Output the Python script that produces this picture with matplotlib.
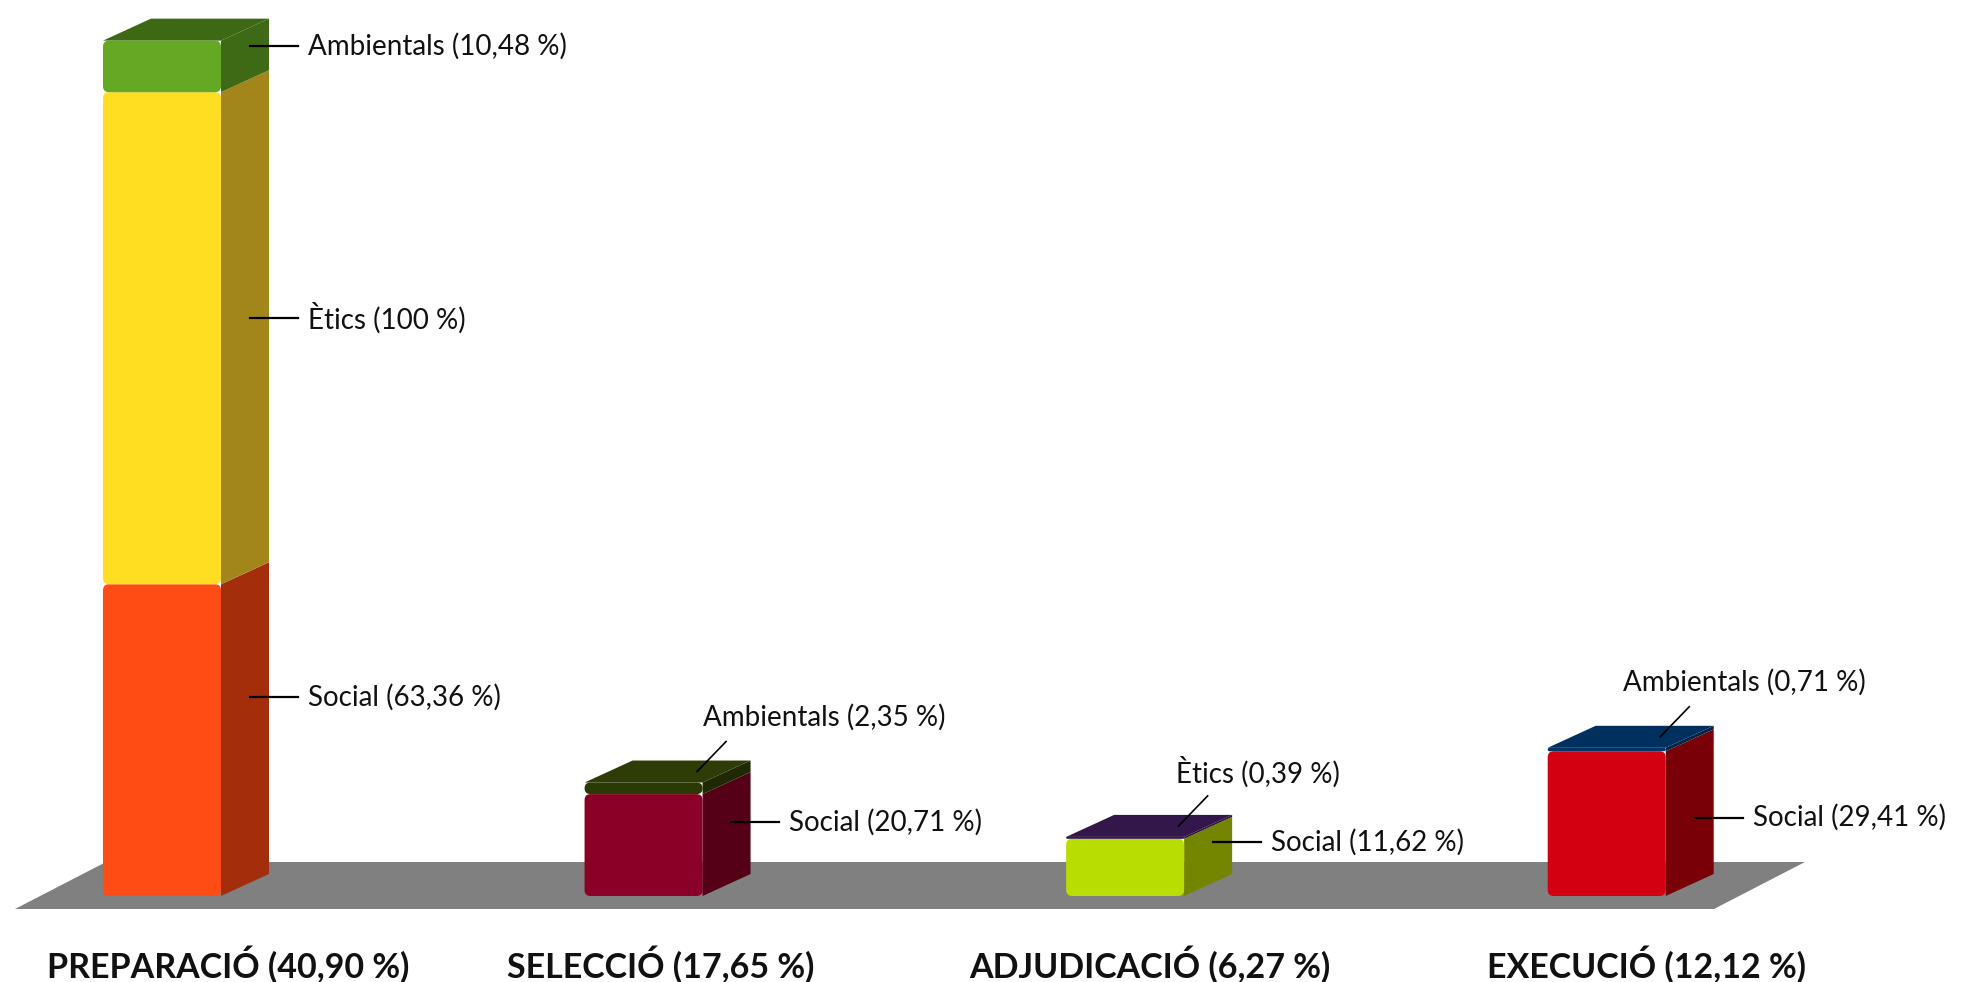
import numpy as np
import matplotlib.pyplot as plt
from matplotlib.patches import Polygon, FancyBboxPatch

# --- datos ---
categories = ['PREPARACIÓ', 'SELECCIÓ', 'ADJUDICACIÓ', 'EXECUCIÓ']
category_pct = [40.90, 17.65, 6.27, 12.12]
series = ['Social', 'Ètics', 'Ambientals']
social = [63.36, 20.71, 11.62, 29.41]
etics = [100.0, 0.0, 0.39, 0.0]
ambientals = [10.48, 2.35, 0.0, 0.71]

# --- estilo: colores (frontal, lateral, superior) por categoría y serie ---
colors = [
    [('#FF4C14', '#A42E0C', '#C23810'), ('#FFDE22', '#A3861A', '#C9AE1E'), ('#64A823', '#3E6A15', '#3D6814')],
    [('#8A0027', '#560017', '#6A001E'), None, ('#2B3A05', '#1F2A04', '#2E3D07')],
    [('#B8DD00', '#748500', '#8FA800'), ('#351848', '#2A1238', '#34174A'), None],
    [('#D20010', '#7A0008', '#9A000C'), None, ('#003366', '#002449', '#00305E')],
]
FLOOR = '#808080'
FONT = 'Lato'

W, H = 1965, 982
XLIM = (-0.3364, 3.744)
YLIM = (-17.48, 182.1)
SX = W / (XLIM[1] - XLIM[0])   # px por unidad x
SY = H / (YLIM[1] - YLIM[0])   # px por unidad y

BAR_W = 118 / SX
DX, DY = 48 / SX, 22 / SY
ROUND = 6   # radio de esquinas (px)

# desplazamientos de etiquetas (px)
side_lift = {(0, 0): 43, (0, 1): 20, (0, 2): 20, (1, 0): 23, (2, 0): 25, (3, 0): 6}
top_text_dx = {1: 98, 2: 50, 3: 55}
cat_label_shift = [66, 17, 25, 40]


def fmt(v):
    s = f'{v:.2f}'.replace('.', ',')
    return s[:-3] if s.endswith(',00') else s


fig = plt.figure(figsize=(W / 100, H / 100), dpi=100)
ax = fig.add_axes([0, 0, 1, 1])
ax.set_xlim(*XLIM)
ax.set_ylim(*YLIM)
ax.axis('off')

# suelo
fl, fr = -147 / SX, 1552 / SX
fy0, fy1 = -13 / SY, 34 / SY
fdx = 91 / SX
ax.add_patch(Polygon([(fl, fy0), (fr, fy0), (fr + fdx, fy1), (fl + fdx, fy1)],
                     closed=True, facecolor=FLOOR, edgecolor='none', zorder=1))

values = np.array([social, etics, ambientals]).T

for i, cat in enumerate(categories):
    x0 = i - BAR_W / 2
    bottom = 0.0
    segs = [(j, v) for j, v in enumerate(values[i]) if v > 0]
    for k, (j, v) in enumerate(segs):
        top = bottom + v
        front, side, topc = colors[i][j]
        ax.add_patch(Polygon([(x0 + BAR_W, bottom), (x0 + BAR_W + DX, bottom + DY),
                              (x0 + BAR_W + DX, top + DY), (x0 + BAR_W, top)],
                             closed=True, facecolor=side, edgecolor='none', zorder=3))
        if k == len(segs) - 1:
            ax.add_patch(Polygon([(x0, top), (x0 + BAR_W, top), (x0 + BAR_W + DX, top + DY),
                                  (x0 + DX, top + DY)],
                                 closed=True, facecolor=topc, edgecolor='none', zorder=3))
        r = min(ROUND, v * SY / 2) / SX
        ax.add_patch(FancyBboxPatch((x0, bottom), BAR_W, v,
                                    boxstyle=f'round,pad=0,rounding_size={r}',
                                    mutation_aspect=SX / SY,
                                    facecolor=front, edgecolor='none', zorder=4))

        label = f'{series[j]} ({fmt(v)} %)'
        if v >= 5:
            # etiqueta lateral con línea horizontal
            ly = (bottom + top) / 2 + side_lift.get((i, j), 20) / SY
            lx = x0 + BAR_W + DX * 0.6
            ax.plot([lx, lx + 48 / SX], [ly, ly], color='black', lw=1.6, zorder=5)
            ax.text(lx + 58 / SX, ly, label, ha='left', va='center', fontsize=20,
                    family=FONT, color='#111111', zorder=5)
        else:
            # etiqueta superior con línea diagonal
            ax_ = x0 + 0.75 * BAR_W + DX / 2
            ay_ = top + DY / 2
            ex, ey = ax_ + 29 / SX, ay_ + 30 / SY
            ax.plot([ax_, ex], [ay_, ey], color='black', lw=1.2, zorder=5)
            ax.text(ex + top_text_dx[i] / SX, ey + 24 / SY, label, ha='center', va='center',
                    fontsize=20, family=FONT, color='#111111', zorder=5)
        bottom = top

    ax.text(i + cat_label_shift[i] / SX, -69 / SY, f'{cat} ({fmt(category_pct[i])} %)',
            ha='center', va='center', fontsize=24.5, fontweight='bold', family=FONT,
            color='#111111')

fig.savefig('out.png', dpi=100)
